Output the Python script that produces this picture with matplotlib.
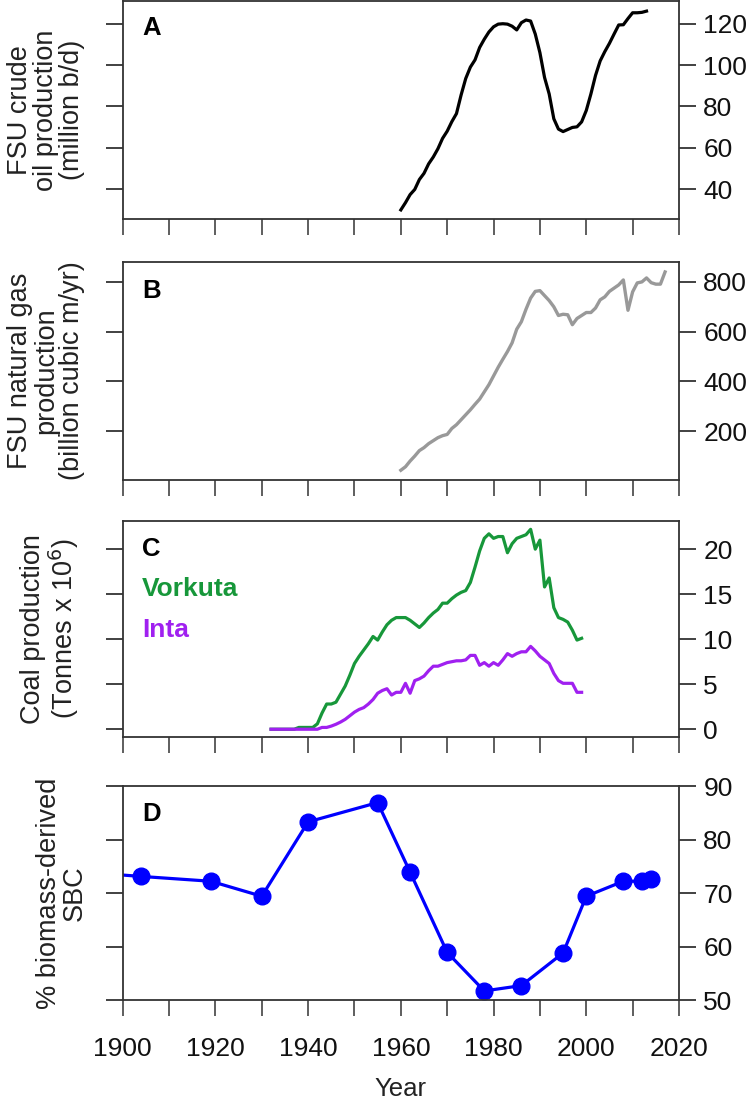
import matplotlib
matplotlib.use('Agg')
import matplotlib.pyplot as plt

# Panel A - FSU crude oil production
oil_years = list(range(1960, 2014))
oil_prod = [29.9, 33.4, 37.3, 39.8, 44.6, 47.6, 52.2, 55.5, 59.5, 64.5,
            68.0, 72.6, 76.5, 85.5, 93.5, 99.0, 102.5, 108.5, 112.5, 116.0,
            118.5, 119.8, 120.0, 119.8, 118.8, 117.0, 120.5, 121.8, 121.3, 115.0,
            106.0, 94.0, 86.0, 74.0, 69.0, 67.8, 68.8, 69.8, 70.1, 72.5,
            78.0, 86.0, 95.0, 102.0, 106.5, 110.5, 115.0, 119.4, 119.5, 122.5,
            125.3, 125.3, 125.5, 126.1]

# Panel B - FSU natural gas production
gas_years = list(range(1960, 2018))
gas_prod = [43, 57, 80, 100, 122, 134, 150, 162, 174, 182,
            187, 211, 226, 246, 266, 286, 308, 329, 358, 387,
            422, 457, 489, 520, 555, 610, 640, 690, 735, 762,
            765, 745, 725, 700, 665, 670, 668, 628, 653, 665,
            677, 677, 695, 728, 740, 762, 775, 788, 808, 686,
            760, 796, 800, 816, 797, 791, 791, 840]

# Panel C - coal production (Tonnes x 10^6)
coal_years = list(range(1932, 2000))
vorkuta = [0, 0, 0, 0, 0, 0, 0.2, 0.2, 0.2, 0.2,
           0.6, 1.8, 2.8, 2.8, 3.0, 3.9, 4.8, 6.0, 7.3, 8.1,
           8.8, 9.5, 10.3, 9.9, 10.8, 11.6, 12.1, 12.4, 12.4, 12.4,
           12.1, 11.7, 11.3, 11.8, 12.4, 12.9, 13.3, 14.0, 14.0, 14.5,
           14.9, 15.2, 15.4, 16.3, 18.0, 19.8, 21.2, 21.7, 21.2, 21.4,
           21.4, 19.6, 20.6, 21.2, 21.4, 21.6, 22.2, 20.0, 21.0, 15.8,
           16.8, 13.5, 12.4, 12.2, 11.9, 11.0, 9.9, 10.1]
inta = [0, 0, 0, 0, 0, 0, 0, 0, 0, 0,
        0, 0.2, 0.2, 0.35, 0.55, 0.8, 1.1, 1.5, 1.9, 2.2,
        2.4, 2.8, 3.3, 4.0, 4.3, 4.5, 3.8, 4.1, 4.1, 5.1,
        4.0, 5.4, 5.6, 5.9, 6.5, 7.0, 7.0, 7.2, 7.4, 7.5,
        7.6, 7.6, 7.7, 8.2, 8.2, 7.1, 7.4, 7.0, 7.4, 7.1,
        7.7, 8.4, 8.1, 8.4, 8.6, 8.6, 9.2, 8.7, 8.1, 7.7,
        7.3, 6.2, 5.4, 5.1, 5.1, 5.1, 4.1, 4.1]

# Panel D - % biomass-derived SBC
sbc_years = [1890, 1904, 1919, 1930, 1940, 1955, 1962, 1970, 1978, 1986,
             1995, 2000, 2008, 2012, 2014]
sbc_pct = [74.0, 73.1, 72.2, 69.4, 83.3, 86.9, 73.9, 58.9, 51.7, 52.7,
           58.8, 69.4, 72.2, 72.2, 72.6]

x_ticks = list(range(1900, 2021, 10))

plt.rcParams['font.family'] = 'Liberation Sans'
AX_COL = '#333333'


def style_axes(ax, yticks, ylim, letter, letter_y, ylabel, label_x, bottom_labels=False):
    ax.set_xlim(1900, 2020)
    ax.set_ylim(*ylim)
    ax.set_xticks(x_ticks)
    ax.set_yticks(yticks)
    for s in ax.spines.values():
        s.set_color(AX_COL)
        s.set_linewidth(1.3)
    ax.tick_params(axis='y', left=True, right=True, labelleft=False, labelright=True,
                   direction='out', length=12.5, width=1.3, color=AX_COL,
                   labelsize=19, pad=5, labelcolor='#111111')
    ax.tick_params(axis='x', direction='out', length=11.5, width=1.1, color=AX_COL,
                   labelsize=19, pad=15, labelcolor='#111111',
                   labelbottom=bottom_labels)
    if bottom_labels:
        ax.set_xticklabels([str(t) if t % 20 == 0 else '' for t in x_ticks])
    ax.text(0.035, letter_y, letter, transform=ax.transAxes, fontsize=18.5,
            fontweight='bold', va='center', ha='left')
    ax.text(label_x, 0.5, ylabel, transform=ax.transAxes, rotation=90,
            ha='center', va='center', multialignment='center',
            fontsize=19.5, linespacing=1.0, color='#222222')


def main():
    fig = plt.figure(figsize=(7.5, 11.01), dpi=100)
    left, width = 0.1636, 0.7417

    axA = fig.add_axes([left, 0.8011, width, 0.1980])
    axA.plot(oil_years, oil_prod, color='black', lw=2.3)
    style_axes(axA, [40, 60, 80, 100, 120], (25.5, 131), 'A', 0.875,
               'FSU crude\noil production\n(million b/d)', -0.137)

    axB = fig.add_axes([left, 0.5643, width, 0.1975])
    axB.plot(gas_years, gas_prod, color='#999999', lw=2.4)
    style_axes(axB, [200, 400, 600, 800], (5, 879), 'B', 0.87,
               'FSU natural gas\nproduction\n(billion cubic m/yr)', -0.137)

    axC = fig.add_axes([left, 0.3303, width, 0.1967])
    axC.plot(coal_years, vorkuta, color='#17973A', lw=2.3)
    axC.plot(coal_years, inta, color='#A020F0', lw=2.3)
    style_axes(axC, [0, 5, 10, 15, 20], (-0.9, 23.15), 'C', 0.87,
               'Coal production\n(Tonnes x 10$^6$)', -0.13)
    axC.text(0.035, 0.685, 'Vorkuta', transform=axC.transAxes, fontsize=19,
             fontweight='bold', color='#17973A', va='center')
    axC.text(0.035, 0.495, 'Inta', transform=axC.transAxes, fontsize=19,
             fontweight='bold', color='#A020F0', va='center')

    axD = fig.add_axes([left, 0.0917, width, 0.1944])
    axD.plot(sbc_years, sbc_pct, color='#0000FF', lw=2.3, marker='o',
             markersize=12, markerfacecolor='#0000FF', markeredgecolor='#0000FF')
    style_axes(axD, [50, 60, 70, 80, 90], (50, 90), 'D', 0.87,
               '% biomass-derived\nSBC', -0.109, bottom_labels=True)

    fig.text(0.5345, 0.011, 'Year', ha='center', va='center', fontsize=18.5,
             color='#222222')

    fig.savefig('out.png', dpi=100)


if __name__ == '__main__':
    main()
